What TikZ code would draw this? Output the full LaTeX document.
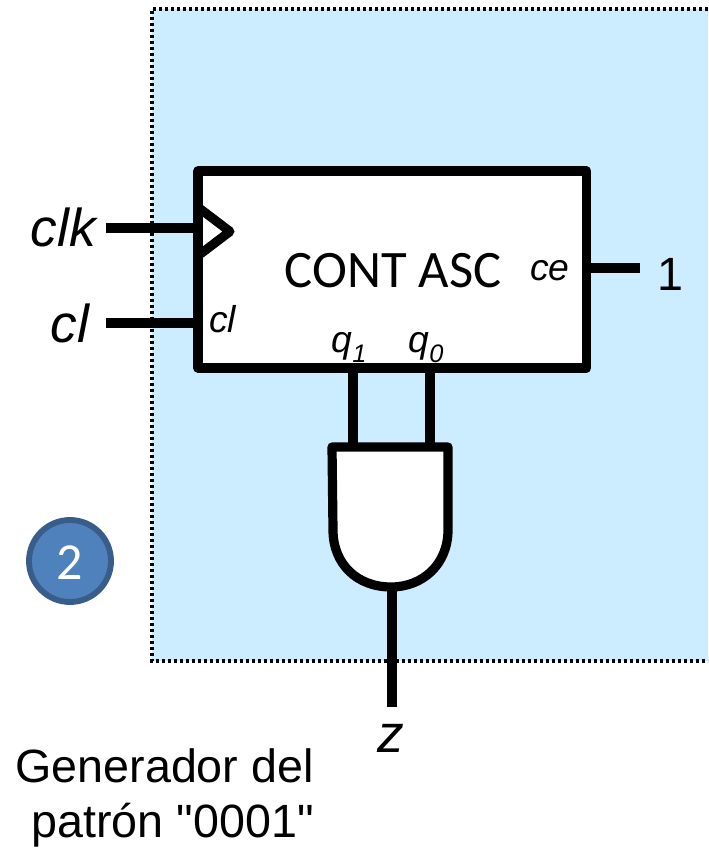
\documentclass[tikz,border=0pt]{standalone}
\usepackage{fontspec}
\setmainfont{Liberation Sans}
\newfontfamily\capfont{Liberation Sans}
\newfontfamily\carlito{Carlito}
\definecolor{panelblue}{HTML}{CCECFF}
\definecolor{badgefill}{HTML}{4F81BD}
\definecolor{badgeedge}{HTML}{385D8A}
\newcommand{\fsz}[1]{\fontsize{#1}{#1}\selectfont}
\tikzset{
  wire/.style={line width=6.9pt,line cap=butt},
  body/.style={draw=black,fill=white,line width=6.9pt,line join=round},
  biglabel/.style={inner sep=0pt,outer sep=0pt,font=\fsz{40}\itshape},
  pinlabel/.style={inner sep=0pt,outer sep=0pt,font=\fsz{28}\itshape},
}
\begin{document}
\begin{tikzpicture}[x=0.75pt,y=-0.75pt]
\useasboundingbox (0,0) rectangle (708,848);
% panel
\fill[panelblue] (152,9) rectangle (708,661);
\draw[line width=2.5pt,dash pattern=on 2.4pt off 2.1pt] (708,9) -- (152,9) -- (152,661) -- (708,661);
% counter
\coordinate (clkfree) at (106,228);
\coordinate (clfree) at (106,323);
\coordinate (cefree) at (640,268);
\coordinate (zfree) at (392,707);
\node[body,minimum width=291.5pt,minimum height=147.75pt,inner sep=0pt,outer sep=0pt,anchor=north west] (cont) at (198,171) {};
\draw[wire] (clkfree) -- (clkfree -| cont.west);
\draw[wire] (clfree) -- (clfree -| cont.west);
\draw[wire] (cefree) -- (cefree -| cont.east);
\draw[line width=6.9pt,line join=round,fill=white] (199,208) -- (230,231.5) -- (199,255);
\draw[line width=6.9pt] (198,200) -- (198,262);
% gate
\coordinate (andq1) at (353,447);
\coordinate (andq0) at (430,447);
\coordinate (andout) at (392,587);
\draw[wire] (andq1 |- cont.south) -- (andq1);
\draw[wire] (andq0 |- cont.south) -- (andq0);
\draw[body] (332,447) -- (448,447) -- (448,530) .. controls (448,564) and (423,587) .. (391,587) .. controls (357,587) and (333,564) .. (333,530) -- cycle;
\draw[wire] (andout) -- (zfree);
% labels
\node[biglabel,anchor=base east] (clklab) at (96,247) {clk};
\node[biglabel,anchor=base east] (cllab) at (89,342) {cl};
\node[inner sep=0pt,font=\fsz{35},anchor=base] (onelab) at (670,291) {1};
\node[biglabel,anchor=base] (zlab) at (391,752) {z};
\node[inner sep=0pt,font=\carlito\fsz{39.5},anchor=base] (contlab) at (393,287) {CONT ASC};
\node[pinlabel,anchor=base west] (clpin) at (209,332) {cl};
\node[pinlabel,anchor=base] (cepin) at (550,281) {ce};
\node[pinlabel,anchor=base] (q1pin) at (349,352) {q\raisebox{-0.28em}{\fsz{19}1}};
\node[pinlabel,anchor=base] (q0pin) at (426,352) {q\raisebox{-0.28em}{\fsz{19}0}};
% badge
\node[circle,draw=badgeedge,fill=badgefill,line width=4.4pt,minimum size=61.5pt,inner sep=0pt,outer sep=0pt] (badge) at (70,561) {};
\node[inner sep=0pt,text=white,font=\carlito\fsz{39}] (badgetxt) at (70,563) {2};
% caption
\node[inner sep=0pt,font=\capfont\fsz{35},anchor=base east] (cap1) at (314,782) {Generador del};
\node[inner sep=0pt,font=\capfont\fsz{35},anchor=base east] (cap2) at (314,837) {patrón "0001"};
\end{tikzpicture}
\end{document}
